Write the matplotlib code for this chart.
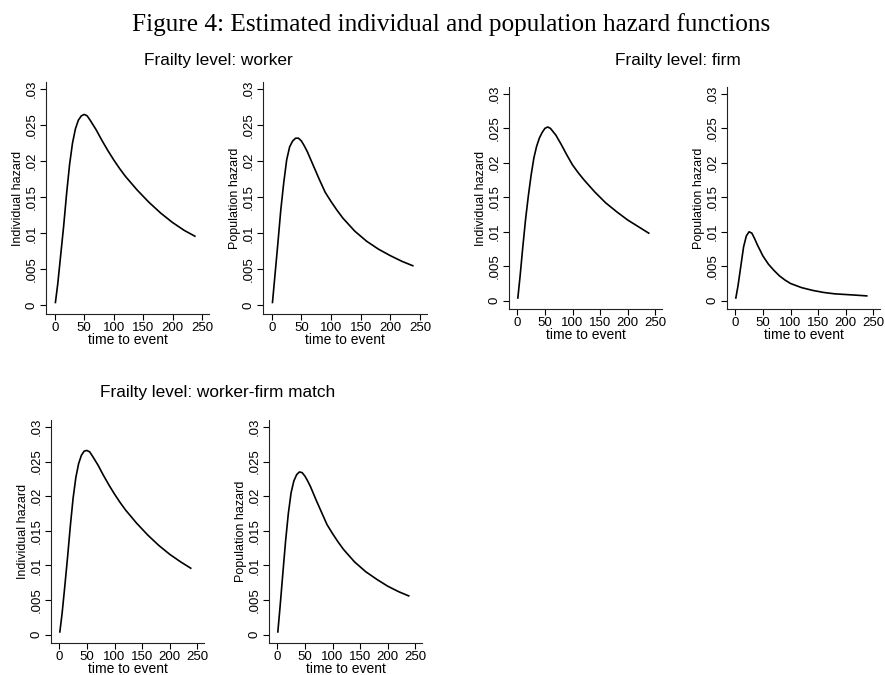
import matplotlib
matplotlib.use('Agg')
import matplotlib.pyplot as plt

plt.rcParams['font.family'] = 'Liberation Sans'

# time to event grid
t = [1, 5, 10, 15, 20, 25, 30, 35, 40, 45, 50, 55, 60, 70, 80, 90, 100,
     110, 120, 140, 160, 180, 200, 220, 238]

worker_ind = [0.0004, 0.0030, 0.0070, 0.0110, 0.0155, 0.0195, 0.0225, 0.0245, 0.0257,
              0.0263, 0.0265, 0.0263, 0.0257, 0.0244, 0.0229, 0.0215, 0.0202,
              0.0190, 0.0179, 0.0160, 0.0143, 0.0128, 0.0115, 0.0104, 0.0096]
worker_pop = [0.0004, 0.0040, 0.0085, 0.0132, 0.0170, 0.0202, 0.0220, 0.0228, 0.0232,
              0.0232, 0.0228, 0.0221, 0.0213, 0.0194, 0.0175, 0.0157, 0.0144,
              0.0132, 0.0121, 0.0103, 0.0089, 0.0078, 0.0069, 0.0061, 0.0055]
firm_ind = [0.0004, 0.0035, 0.0078, 0.0118, 0.0152, 0.0182, 0.0207, 0.0224, 0.0236,
            0.0244, 0.0250, 0.0252, 0.0250, 0.0240, 0.0226, 0.0211, 0.0197,
            0.0186, 0.0176, 0.0158, 0.0142, 0.0129, 0.0117, 0.0107, 0.0098]
firm_pop = [0.0004, 0.0022, 0.0050, 0.0078, 0.0094, 0.0100, 0.0098, 0.0090, 0.0081,
            0.0073, 0.0065, 0.0059, 0.0053, 0.0044, 0.0036, 0.0030, 0.0025,
            0.0022, 0.0019, 0.0015, 0.0012, 0.0010, 0.0009, 0.0008, 0.0007]
match_ind = [0.0004, 0.0030, 0.0070, 0.0112, 0.0157, 0.0197, 0.0227, 0.0247, 0.0259,
             0.0265, 0.0266, 0.0264, 0.0258, 0.0245, 0.0230, 0.0216, 0.0203,
             0.0191, 0.0180, 0.0161, 0.0144, 0.0129, 0.0116, 0.0105, 0.0096]
match_pop = [0.0004, 0.0040, 0.0088, 0.0135, 0.0175, 0.0205, 0.0222, 0.0231, 0.0235,
             0.0234, 0.0229, 0.0222, 0.0214, 0.0195, 0.0177, 0.0159, 0.0146,
             0.0134, 0.0123, 0.0105, 0.0091, 0.0080, 0.0070, 0.0062, 0.0056]

xticks = [0, 50, 100, 150, 200, 250]
yticks = [0, 0.005, 0.01, 0.015, 0.02, 0.025, 0.03]
ytick_labels = ['0', '.005', '.01', '.015', '.02', '.025', '.03']

W, H = 885, 675
fig = plt.figure(figsize=(W / 100, H / 100), dpi=100)

def panel(box, y, ylabel):
    l, t_, r, b = box
    ax = fig.add_axes([l / W, 1 - b / H, (r - l) / W, (b - t_) / H])
    ax.plot(t, y, color='black', lw=1.2)
    ax.set_xlim(-15, 262)
    ax.set_ylim(-0.0012, 0.031)
    for s in ['top', 'right']:
        ax.spines[s].set_visible(False)
    for s in ['left', 'bottom']:
        ax.spines[s].set_linewidth(0.8)
        ax.spines[s].set_color('#222222')
    ax.set_xticks(xticks)
    ax.set_yticks(yticks)
    ax.set_yticklabels(ytick_labels, rotation=90, va='center')
    ax.tick_params(labelsize=9.5, length=4, width=0.8, pad=2)
    ax.set_ylabel(ylabel, fontsize=9, labelpad=1)
    ax.set_xlabel('time to event', fontsize=10, labelpad=-1)
    return ax

panel((46, 82, 209, 314), worker_ind, 'Individual hazard')
panel((263, 82, 427, 314), worker_pop, 'Population hazard')
panel((509, 87, 662, 309), firm_ind, 'Individual hazard')
panel((727, 87, 880, 309), firm_pop, 'Population hazard')
panel((51, 420, 204, 643), match_ind, 'Individual hazard')
panel((269, 420, 422, 643), match_pop, 'Population hazard')

fig.text(451 / W, 1 - 25 / H, 'Figure 4: Estimated individual and population hazard functions',
         ha='center', va='center', fontsize=18.2, family='Liberation Serif')
fig.text(218 / W, 1 - 60 / H, 'Frailty level: worker', ha='center', va='center', fontsize=12.4)
fig.text(678 / W, 1 - 60 / H, 'Frailty level: firm', ha='center', va='center', fontsize=12.4)
fig.text(218 / W, 1 - 393 / H, 'Frailty level: worker-firm match', ha='center', va='center', fontsize=12.4)

fig.savefig('out.png', dpi=100)
